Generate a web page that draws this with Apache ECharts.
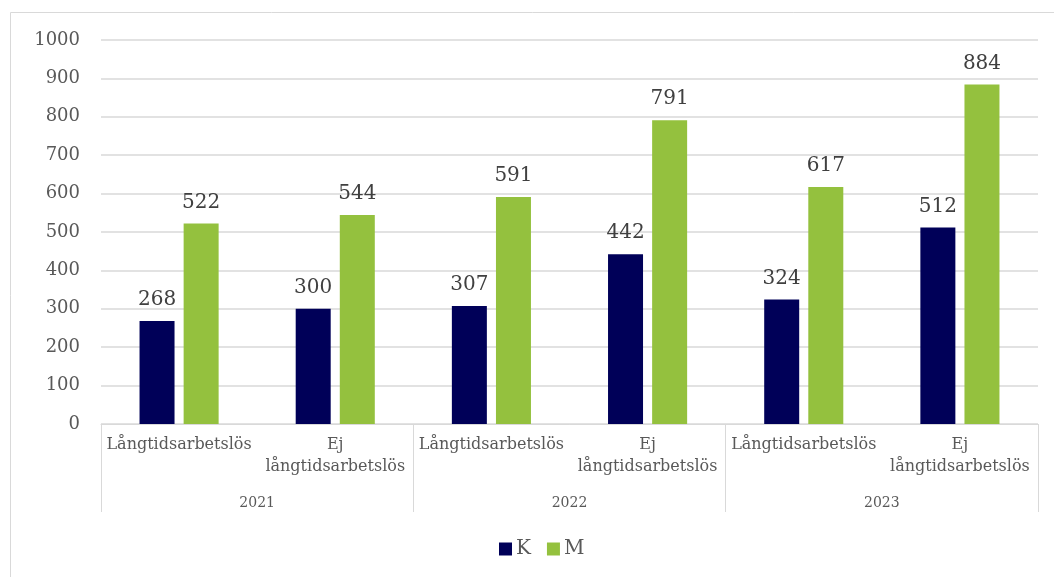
<!DOCTYPE html>
<html>
<head>
<meta charset="utf-8">
<script src="https://cdn.jsdelivr.net/npm/echarts@6/dist/echarts.min.js"></script>
<style>
html,body{margin:0;padding:0;background:#fff;}
#c{width:1054px;height:577px;}
</style>
</head>
<body>
<div id="c"></div>
<script>
const categories = ['Långtidsarbetslös', 'Ej\nlångtidsarbetslös', 'Långtidsarbetslös', 'Ej\nlångtidsarbetslös', 'Långtidsarbetslös', 'Ej\nlångtidsarbetslös'];
const years = ['2021', '2022', '2023'];
const valuesK = [268, 300, 307, 442, 324, 512];
const valuesM = [522, 544, 591, 791, 617, 884];
const seriesNames = ['K', 'M'];

const FONT = 'DejaVu Serif';
const chart = echarts.init(document.getElementById('c'));
chart.setOption({
  animation: false,
  textStyle: { fontFamily: FONT },
  graphic: [{
    type: 'rect', left: 8, top: 10, silent: true,
    shape: { width: 1100, height: 600 },
    style: { fill: 'none', stroke: '#d9d9d9', lineWidth: 1 }
  }],
  grid: { left: 101, right: 16, top: 40, bottom: 153, containLabel: false },
  legend: {
    data: seriesNames, bottom: 13, left: 494,
    icon: 'rect', itemWidth: 13, itemHeight: 13, itemGap: 16,
    textStyle: { fontFamily: FONT, fontSize: 20, color: '#595959', padding: [0, 0, 0, -1] }
  },
  xAxis: [{
    type: 'category', data: categories, position: 'bottom',
    axisLine: { lineStyle: { color: '#d9d9d9' } },
    axisTick: { show: false },
    axisLabel: { interval: 0, margin: 10, fontFamily: FONT, fontSize: 16, color: '#595959', lineHeight: 22, align: 'center' }
  }, {
    type: 'category', data: years, position: 'bottom',
    axisLine: { show: false },
    axisTick: { show: true, length: 88, inside: false, lineStyle: { color: '#d9d9d9' } },
    axisLabel: { margin: 72, fontFamily: FONT, fontSize: 14, color: '#595959' },
    splitLine: { show: false }
  }],
  yAxis: {
    type: 'value', min: 0, max: 1000, interval: 100,
    axisLine: { show: false }, axisTick: { show: false },
    axisLabel: { margin: 21, fontFamily: FONT, fontSize: 18, color: '#595959', formatter: v => String(v) },
    splitLine: { lineStyle: { color: '#d9d9d9', width: 1.5 } }
  },
  series: [{
    name: seriesNames[0], type: 'bar', data: valuesK, barWidth: 35, barGap: '26%',
    itemStyle: { color: '#000058' },
    label: { show: true, position: 'top', distance: 11, fontFamily: FONT, fontSize: 20, color: '#404040' }
  }, {
    name: seriesNames[1], type: 'bar', data: valuesM, barWidth: 35, barGap: '26%',
    itemStyle: { color: '#94c13e' },
    label: { show: true, position: 'top', distance: 11, fontFamily: FONT, fontSize: 20, color: '#404040' }
  }]
});
</script>
</body>
</html>
